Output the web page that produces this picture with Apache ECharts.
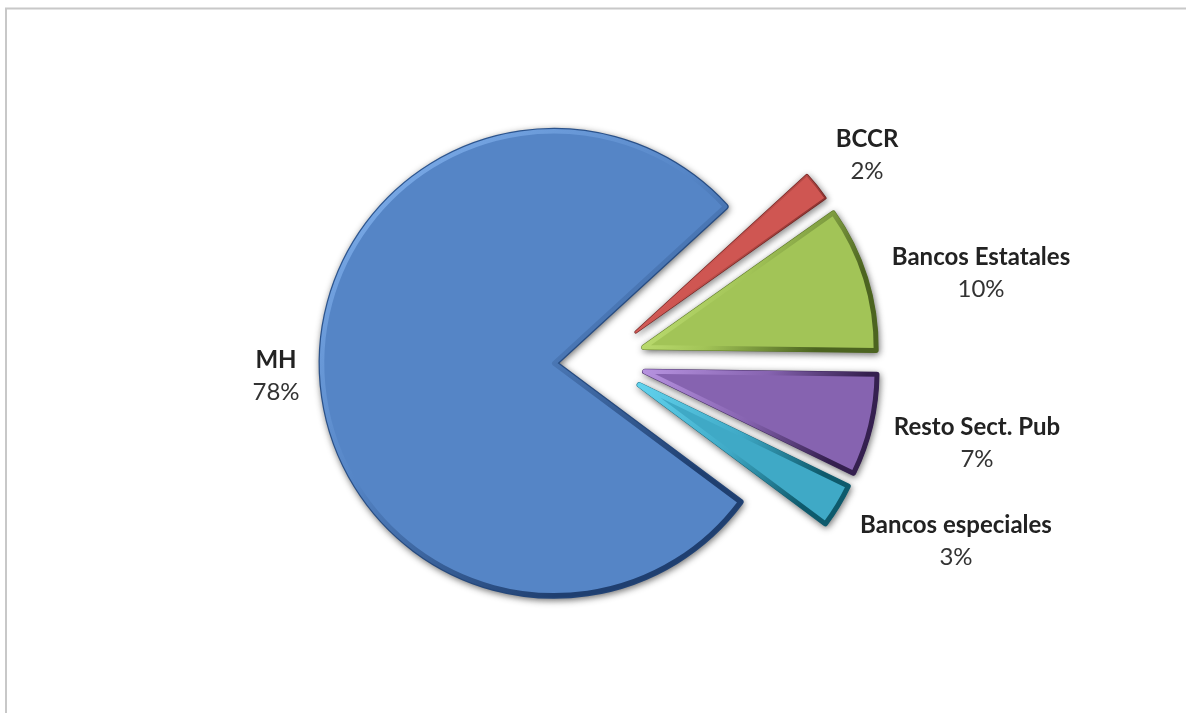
<!DOCTYPE html>
<html><head><meta charset="utf-8">
<style>html,body{margin:0;padding:0;background:#fff}#c{width:1186px;height:713px}</style>
<script src="https://cdn.jsdelivr.net/npm/echarts@6/dist/echarts.min.js"></script>
</head><body><div id="c"></div>
<script>
const categories = ['BCCR','Bancos Estatales','Resto Sect. Pub','Bancos especiales','MH'];
const values = [2,10,7,3,78];
const fills = ['#cf5652','#a2c457','#8663b0','#3fa9c6','#5585c6'];
const lights = ['#f08a86','#d6f58a','#b793e0','#62d3ee','#86b6f2'];
const darks = ['#5e1a18','#4c6420','#35204f','#0e5a6c','#1f3f70'];
const outlines = ['#8c3230','#6f8c33','#4f3570','#1d7388','#2f5a96'];
const labelAnchors = [[867,155],[981,273],[977,443],[956,541],[276,376]];

const base = {
  type:'pie',center:[600,361],radius:[0,232],startAngle:42.5,clockwise:true,
  selectedMode:'multiple',selectedOffset:46,avoidLabelOverlap:false,
  emphasis:{disabled:true},labelLine:{show:false},silent:true
};
const chart = echarts.init(document.getElementById('c'),null,{renderer:'canvas'});
chart.setOption({
  animation:false,
  backgroundColor:'#fff',
  graphic:[
    {type:'line',silent:true,shape:{x1:5,y1:8.5,x2:1186,y2:8.5},style:{stroke:'#c8c8c8',lineWidth:2}},
    {type:'line',silent:true,shape:{x1:6,y1:8,x2:6,y2:713},style:{stroke:'#c8c8c8',lineWidth:2}}
  ],
  series:[
  Object.assign({},base,{
    label:{show:false},
    data:categories.map((name,i)=>({
      name,value:values[i],selected:true,
      itemStyle:{
        color:darks[i],
        borderWidth:i===0?3:(i===4?7:5.5),
        borderJoin:'round',
        borderColor:{type:'linear',x:0,y:0,x2:1,y2:1,colorStops:[
          {offset:0,color:outlines[i]},{offset:1,color:darks[i]}]},
        shadowBlur:7,shadowColor:'rgba(0,0,0,.45)',shadowOffsetX:1,shadowOffsetY:2
      }
    }))
  }),
  Object.assign({},base,{
    label:{show:false},
    data:categories.map((name,i)=>({
      name,value:values[i],selected:true,
      itemStyle:{
        color:fills[i],
        borderWidth:i===0?1.5:4.5,
        borderJoin:'round',
        borderColor:{type:'linear',x:0,y:0,x2:1,y2:1,colorStops:[
          {offset:0,color:lights[i]},{offset:.45,color:fills[i]},{offset:.8,color:darks[i]},{offset:1,color:darks[i]}]}
      }
    }))
  }),
  Object.assign({},base,{
    selectedMode:false,
    labelLayout:function(p){
      const a=labelAnchors[p.dataIndex];
      return {x:a[0],y:a[1],align:'center',verticalAlign:'middle'};
    },
    itemStyle:{color:'transparent',borderWidth:0},
    data:categories.map((name,i)=>({name,value:values[i]})),
    label:{
      show:true,position:'outside',formatter:p=>'{n|'+p.name+'}\n{v|'+Math.round(p.value)+'%}',
      rich:{
        n:{fontFamily:'Lato',fontWeight:'bold',fontSize:24,color:'#222',lineHeight:32,align:'center'},
        v:{fontFamily:'Lato',fontSize:24,color:'#333',lineHeight:32,align:'center'}
      }
    }
  })]
});
</script></body></html>
